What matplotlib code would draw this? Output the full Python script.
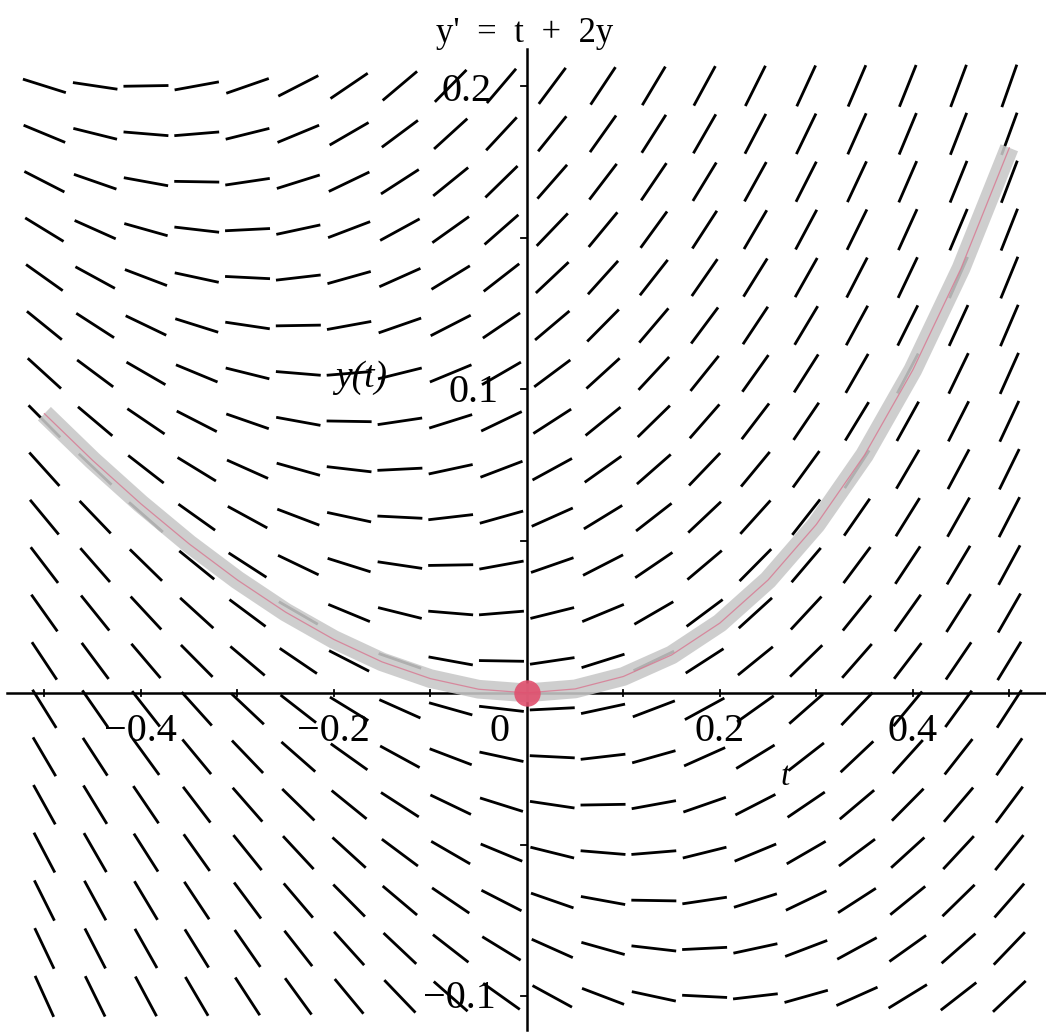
import numpy as np
import matplotlib
matplotlib.use("Agg")
import matplotlib.pyplot as plt

# ---- data ----
t_grid = np.linspace(-0.5, 0.5, 20)      # direction-field columns
y_grid = np.linspace(-0.1, 0.2, 20)      # direction-field rows
# solution curve y(t) through (0, 0)
curve_t = [-0.5, -0.45, -0.4, -0.35, -0.3, -0.25, -0.2, -0.15, -0.1, -0.05, 0.0,
           0.05, 0.1, 0.15, 0.2, 0.25, 0.3, 0.35, 0.4, 0.45, 0.5]
curve_y = [0.092, 0.0766, 0.0623, 0.0491, 0.0372, 0.0266, 0.0176, 0.0102, 0.0047, 0.0012, 0.0,
           0.0013, 0.0054, 0.0125, 0.0230, 0.0372, 0.0555, 0.0784, 0.1064, 0.1399, 0.1796]
init_t, init_y = [0.0], [0.0]
x_ticks = [-0.5, -0.4, -0.3, -0.2, -0.1, 0.1, 0.2, 0.3, 0.4, 0.5]
x_labels = {-0.4: "\u22120.4", -0.2: "\u22120.2", 0.2: "0.2", 0.4: "0.4"}
y_ticks = [-0.1, -0.05, 0.05, 0.1, 0.15, 0.2]

W, H = 1046, 1034
fig = plt.figure(figsize=(W / 100, H / 100), dpi=100)
ax = fig.add_axes([0, 0, 1, 1])
xmin, xmax = -0.546, 0.538
ymin, ymax = -0.1124, 0.2283
ax.set_xlim(xmin, xmax)
ax.set_ylim(ymin, ymax)
ax.set_axis_off()

serif = "Liberation Serif"

# direction field
T, Y = np.meshgrid(t_grid, y_grid)
M = T + 2 * Y
U = 1 / np.sqrt(1 + M ** 2)
V = M / np.sqrt(1 + M ** 2)
ax.quiver(T, Y, U, V, angles="xy", pivot="middle", scale_units="dots",
          scale=1 / 45, units="dots", width=2.8, headwidth=0, headlength=0,
          headaxislength=0, color="black", zorder=2)

# axes lines
ax.plot([-0.539, xmax], [0, 0], color="black", lw=1.8, zorder=3)
ax.plot([0, 0], [-0.111, 0.212], color="black", lw=1.8, zorder=3)
# ticks
px_x = (xmax - xmin) / W
px_y = (ymax - ymin) / H
for xt in x_ticks:
    ax.plot([xt, xt], [-3 * px_y, 3 * px_y], color="black", lw=1.3, zorder=3)
for yt in y_ticks:
    ax.plot([-6 * px_x, 0], [yt, yt], color="black", lw=1.3, zorder=3)

# solution curve
ax.plot(curve_t, curve_y, color="#c8c8c8", lw=13.5, alpha=0.88,
        solid_capstyle="butt", solid_joinstyle="round", zorder=4)
ax.plot(curve_t, curve_y, color="#d9708c", lw=0.9, alpha=0.75, zorder=5)
ax.plot(init_t, init_y, "o", color="#e0506e", markersize=19, alpha=0.9,
        markeredgewidth=0, zorder=6)

# tick labels
for xv, lab in x_labels.items():
    ax.text(xv, -39 * px_y, lab, ha="center", va="center", fontsize=29,
            family=serif, zorder=7)
ax.text(-27 * px_x, -39 * px_y, "0", ha="center", va="center", fontsize=29,
        family=serif, zorder=7)
ax.text(-35 * px_x, 0.2 - 6 * px_y, "0.2", ha="right", va="center", fontsize=29,
        family=serif, zorder=7)
ax.text(-28 * px_x, 0.1 - 3 * px_y, "0.1", ha="right", va="center", fontsize=29,
        family=serif, zorder=7)
ax.text(-31 * px_x, -0.1 - 2 * px_y, "\u22120.1", ha="right", va="center", fontsize=29,
        family=serif, zorder=7)

# axis labels and title
ax.text(0.268, -0.0276, "t", ha="center", va="center", fontsize=24,
        family=serif, style="italic", zorder=7)
ax.text(-0.172, 0.104, "y(t)", ha="center", va="center", fontsize=27,
        family=serif, style="italic", zorder=7)
ax.text(-0.002, ymax - 33 * px_y, "y'  =  t  +  2y", ha="center", va="center",
        fontsize=25, family=serif, zorder=7)

fig.savefig("out.png", dpi=100)
